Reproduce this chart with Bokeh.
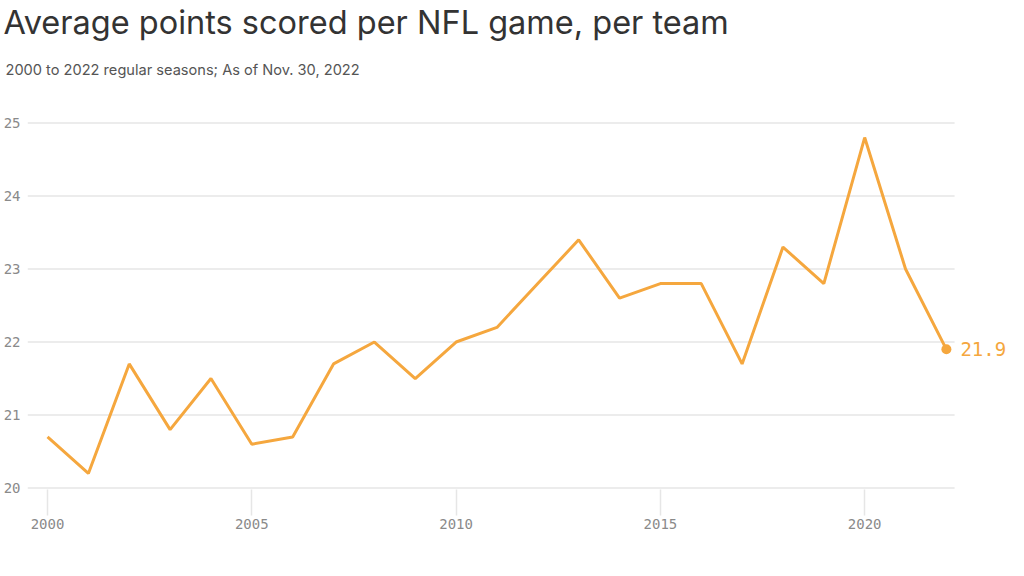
from bokeh.plotting import figure
from bokeh.models import Range1d, Title, Label, FixedTicker
from bokeh.embed import file_html
from bokeh.resources import INLINE

years = list(range(2000, 2023))
points = [20.7, 20.2, 21.7, 20.8, 21.5, 20.6, 20.7, 21.7, 22.0, 21.5, 22.0, 22.2,
          22.8, 23.4, 22.6, 22.8, 22.8, 21.7, 23.3, 22.8, 24.8, 23.0, 21.9]
y_ticks = [20, 21, 22, 23, 24, 25]
x_ticks = [2000, 2005, 2010, 2015, 2020]
title_text = "Average points scored per NFL game, per team"
subtitle_text = "2000 to 2022 regular seasons; As of Nov. 30, 2022"

ORANGE = "#F5A73E"
GRID = "#e6e6e6"
MONO = "DejaVu Sans Mono"

X0, X1 = 1999.51, 2023.52
GRID_END = 2022.2

p = figure(width=1008, height=560, output_backend="svg", toolbar_location=None,
           x_range=Range1d(X0, X1), y_range=Range1d(19.98, 25.02),
           min_border_left=20, min_border_right=0, min_border_bottom=71,
           min_border_top=0)
p.outline_line_color = None
p.background_fill_color = "white"

# blank spacer between the plot area and the subtitle
p.add_layout(Title(text=" ", text_font="Inter", text_font_size="10px",
                   standoff=11), "above")
p.add_layout(Title(text=subtitle_text, text_font="Inter", text_font_size="14.6px",
                   text_font_style="normal", text_color="#555555", offset=-22,
                   standoff=35), "above")
p.add_layout(Title(text=title_text, text_font="Inter", text_font_size="32.5px",
                   text_font_style="normal", text_color="#333333", offset=-24,
                   standoff=0), "above")

# horizontal grid lines, ending short of the end label
p.segment(x0=[X0] * len(y_ticks), x1=[GRID_END] * len(y_ticks), y0=y_ticks, y1=y_ticks,
          line_color=GRID, line_width=1.5)

p.line(years, points, line_color=ORANGE, line_width=3)
p.scatter([years[-1]], [points[-1]], size=10, fill_color=ORANGE, line_color=None)

lab = Label(x=years[-1], y=points[-1], text=f"{points[-1]:.1f}", x_offset=14,
            text_font=MONO, text_font_size="19px", text_color=ORANGE,
            text_baseline="middle", text_align="left")
p.add_layout(lab)

p.xgrid.grid_line_color = None
p.ygrid.grid_line_color = None

p.yaxis.ticker = FixedTicker(ticks=y_ticks)
p.xaxis.ticker = FixedTicker(ticks=x_ticks)
for ax in (p.xaxis, p.yaxis):
    ax.axis_line_color = None
    ax.minor_tick_line_color = None
    ax.major_label_text_font = MONO
    ax.major_label_text_font_size = "14px"
    ax.major_label_text_color = "#8a8a8a"
p.yaxis.major_tick_line_color = None
p.yaxis.major_label_standoff = 1
p.xaxis.major_tick_line_color = GRID
p.xaxis.major_tick_line_width = 1.5
p.xaxis.major_tick_out = 26
p.xaxis.major_tick_in = 0
p.xaxis.major_label_standoff = 3

open("out.html", "w").write(file_html(p, INLINE))
